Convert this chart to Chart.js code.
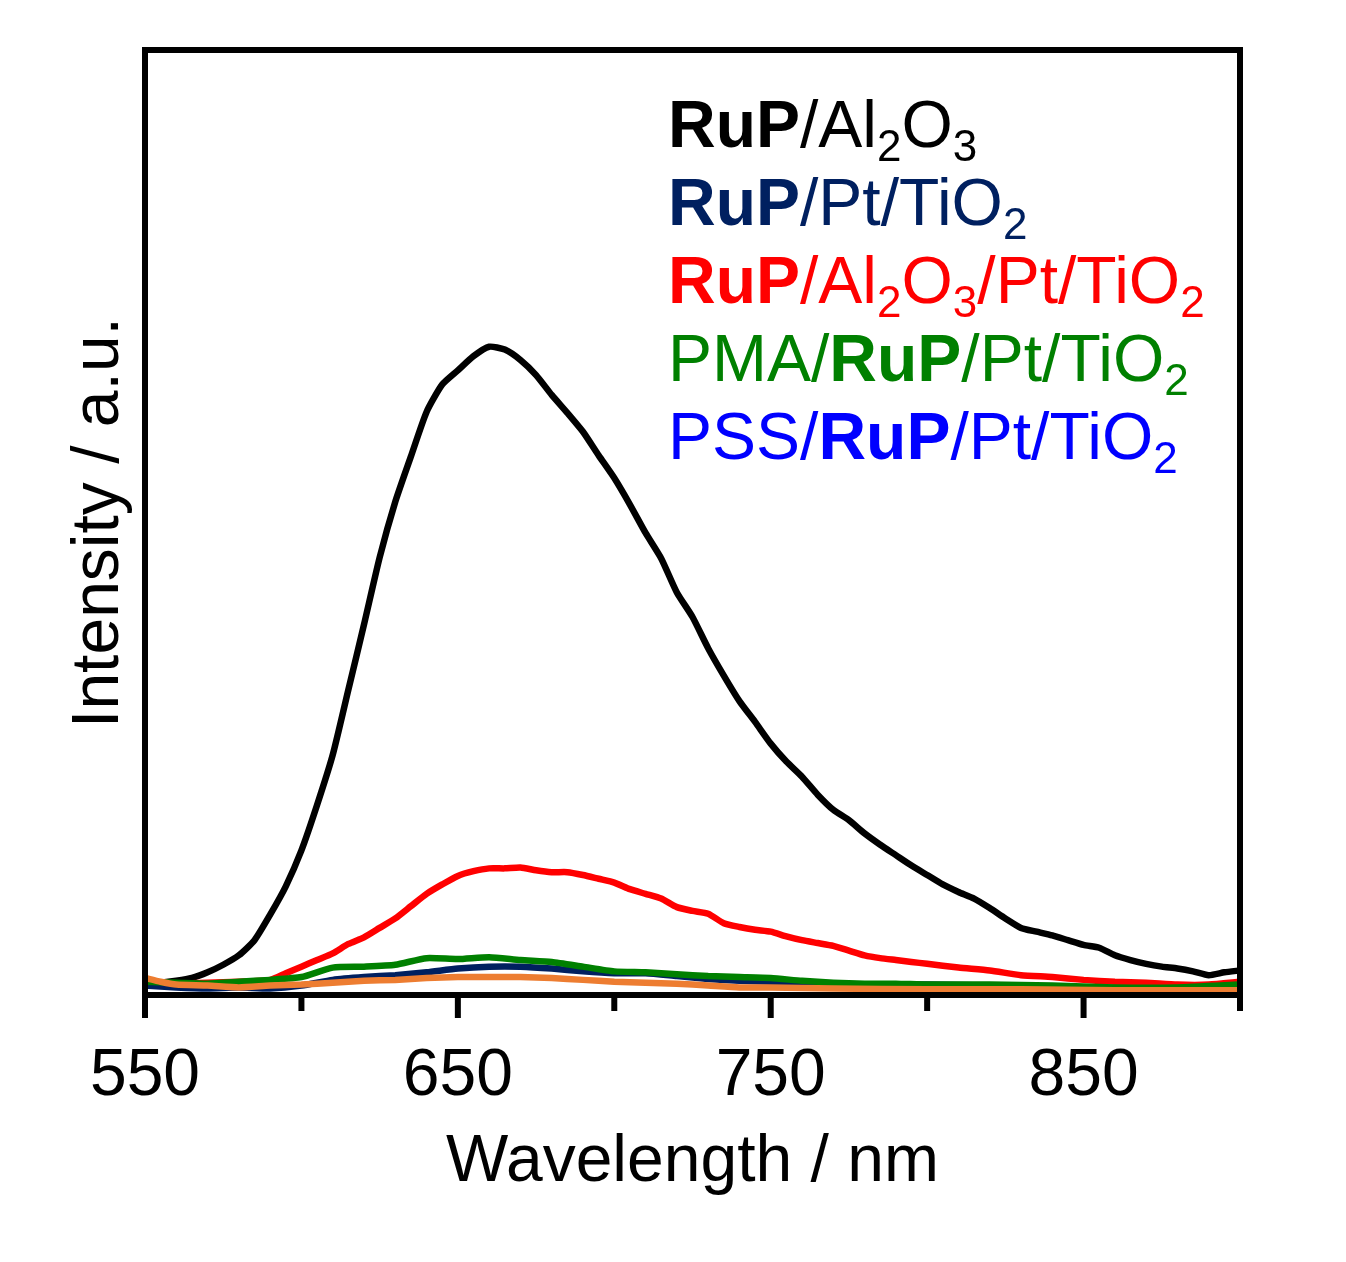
<!DOCTYPE html>
<html>
<head>
<meta charset="utf-8">
<script src="https://cdn.jsdelivr.net/npm/chart.js@4.4.1/dist/chart.umd.min.js"></script>
<style>
  html, body { margin: 0; padding: 0; background: #fff; }
  #wrap { width: 1346px; height: 1262px; }
</style>
</head>
<body>
<div id="wrap"><canvas id="pl" width="1346" height="1262"></canvas></div>
<script>
// ---- data (intensity in arbitrary units, 0..100 full frame) ----
const wlBlack = [550,555,560,565,570,575,580,585,590,595,600,605,610,615,620,625,630,635,640,645,
  650,655,660,665,670,675,680,685,690,695,700,705,710,715,720,725,730,735,740,745,
  750,755,760,765,770,775,780,785,790,795,800,805,810,815,820,825,830,835,840,845,
  850,855,860,865,870,875,880,885,890,895,900];
const iBlack = [1.2,1.3,1.5,1.8,2.4,3.2,4.2,5.8,8.5,11.5,15.3,20.1,25.4,32.3,39.2,46.3,52.2,57.0,61.7,64.6,
  66.1,67.6,68.6,68.3,67.2,65.6,63.5,61.6,59.6,57.1,54.7,51.9,48.9,46.2,42.6,40.0,36.7,33.8,31.1,28.9,
  26.6,24.7,23.1,21.2,19.6,18.5,17.1,15.9,14.8,13.7,12.7,11.7,10.9,10.2,9.2,8.1,7.1,6.7,6.3,5.8,
  5.3,5.0,4.2,3.7,3.3,3.0,2.8,2.5,2.1,2.4,2.6];

const wlRed = [550,560,570,580,590,595,600,605,610,615,620,625,630,635,640,645,650,655,660,665,
  670,675,680,685,690,695,700,705,710,715,720,725,730,735,740,745,750,755,760,765,
  770,775,780,785,790,795,800,810,820,830,840,850,860,870,880,890,900];
const iRed = [1.2,1.2,1.3,1.4,1.6,2.3,3.0,3.7,4.4,5.4,6.1,7.1,8.1,9.4,10.7,11.7,12.6,13.1,13.4,13.4,
  13.5,13.2,13.0,13.0,12.7,12.3,11.9,11.2,10.7,10.2,9.3,8.9,8.6,7.6,7.2,6.9,6.7,6.2,5.8,5.5,
  5.2,4.7,4.2,3.9,3.7,3.5,3.3,2.9,2.6,2.1,1.9,1.6,1.4,1.3,1.1,1.1,1.4];

const wlGreen = [550,560,570,580,590,600,610,620,630,640,650,660,670,680,690,700,710,720,730,740,
  750,760,770,780,790,800,820,840,860,880,900];
const iGreen = [1.4,1.3,1.2,1.4,1.6,1.9,2.9,3.0,3.2,3.9,3.8,4.0,3.7,3.5,3.0,2.5,2.4,2.2,2.0,1.9,
  1.8,1.5,1.3,1.2,1.2,1.1,1.1,1.0,0.8,0.8,1.1];

const wlNavy = [550,560,570,580,590,600,610,620,630,640,650,660,670,680,690,700,710,720,730,740,
  750,760,780,800,820,840,860,880,900];
const iNavy = [1.0,0.8,0.7,0.8,0.7,1.0,1.6,1.9,2.1,2.4,2.8,3.0,3.0,2.8,2.5,2.3,2.3,2.0,1.7,1.5,
  1.4,1.2,1.1,1.1,1.0,0.8,0.7,0.7,0.6];

const wlOrange = [550,555,560,570,580,590,600,610,620,630,640,650,660,670,680,690,700,710,720,730,
  740,750,770,800,830,860,900];
const iOrange = [1.8,1.4,1.1,1.0,0.8,1.0,1.1,1.3,1.5,1.6,1.8,1.9,1.9,1.9,1.8,1.6,1.4,1.3,1.2,1.0,
  0.8,0.8,0.7,0.6,0.6,0.5,0.5];

const xMajor = [550, 650, 750, 850];
const xMinor = [600, 700, 800, 900];

// legend rows: segments of text, b = bold, s = subscript
const legendColors = ['#000000', '#002060', '#ff0000', '#008000', '#0000ff'];
const legendRows = [
  [{t:'RuP',b:1},{t:'/Al'},{t:'2',s:1},{t:'O'},{t:'3',s:1}],
  [{t:'RuP',b:1},{t:'/Pt/TiO'},{t:'2',s:1}],
  [{t:'RuP',b:1},{t:'/Al'},{t:'2',s:1},{t:'O'},{t:'3',s:1},{t:'/Pt/TiO'},{t:'2',s:1}],
  [{t:'PMA/'},{t:'RuP',b:1},{t:'/Pt/TiO'},{t:'2',s:1}],
  [{t:'PSS/'},{t:'RuP',b:1},{t:'/Pt/TiO'},{t:'2',s:1}]
];

const FONT = '"Liberation Sans", Arial, Helvetica, sans-serif';

function pts(xs, ys) { return xs.map((x, i) => ({ x: x, y: ys[i] })); }

function series(label, xs, ys, color, order) {
  return {
    label: label,
    data: pts(xs, ys),
    borderColor: color,
    borderWidth: 6.5,
    pointRadius: 0,
    tension: 0.2,
    fill: false,
    order: order
  };
}

const framePlugin = {
  id: 'frame',
  afterDraw(chart) {
    const { ctx, chartArea: a, scales } = chart;
    ctx.save();
    ctx.strokeStyle = '#000';
    ctx.lineWidth = 6;
    ctx.strokeRect(a.left, a.top, a.right - a.left, a.bottom - a.top);
    // bottom ticks, pointing out
    const drawTick = (v, len) => {
      const px = scales.x.getPixelForValue(v);
      ctx.beginPath();
      ctx.moveTo(px, a.bottom);
      ctx.lineTo(px, a.bottom + len);
      ctx.stroke();
    };
    xMajor.forEach(v => drawTick(v, 23));
    xMinor.forEach(v => drawTick(v, 16));
    ctx.restore();
  }
};

const legendPlugin = {
  id: 'richLegend',
  afterDraw(chart) {
    const ctx = chart.ctx;
    ctx.save();
    ctx.textBaseline = 'alphabetic';
    ctx.textAlign = 'left';
    legendRows.forEach((row, i) => {
      let x = 668;
      const y = 147 + i * 78;
      ctx.fillStyle = legendColors[i];
      row.forEach(seg => {
        if (seg.s) {
          ctx.font = '44px ' + FONT;
          ctx.fillText(seg.t, x, y + 14);
        } else {
          ctx.font = (seg.b ? 'bold ' : '') + '66px ' + FONT;
          ctx.fillText(seg.t, x, y);
        }
        x += ctx.measureText(seg.t).width;
      });
    });
    ctx.restore();
  }
};

new Chart(document.getElementById('pl').getContext('2d'), {
  type: 'line',
  data: {
    datasets: [
      series('RuP/Al2O3', wlBlack, iBlack, '#000000', 5),
      series('RuP/Al2O3/Pt/TiO2', wlRed, iRed, '#ff0000', 4),
      series('RuP/Pt/TiO2', wlNavy, iNavy, '#002060', 3),
      series('PMA/RuP/Pt/TiO2', wlGreen, iGreen, '#008000', 2),
      series('PSS/RuP/Pt/TiO2', wlOrange, iOrange, '#ed7d31', 1)
    ]
  },
  options: {
    responsive: false,
    animation: false,
    layout: { padding: { top: 50, right: 106, left: 0, bottom: 0 } },
    plugins: { legend: { display: false }, tooltip: { enabled: false } },
    scales: {
      x: {
        type: 'linear',
        min: 550,
        max: 900,
        afterBuildTicks: s => { s.ticks = xMajor.map(v => ({ value: v })); },
        afterFit: s => { s.height = 267; },
        grid: { display: false, drawTicks: false },
        border: { display: false },
        ticks: { color: '#000', font: { family: FONT, size: 66 }, padding: 42, maxRotation: 0, autoSkip: false },
        title: { display: true, text: 'Wavelength / nm', color: '#000', font: { family: FONT, size: 66 }, padding: { top: 0, bottom: 60 } }
      },
      y: {
        min: 0,
        max: 100,
        afterFit: s => { s.width = 145; },
        grid: { display: false, drawTicks: false },
        border: { display: false },
        ticks: { display: false },
        title: { display: true, text: 'Intensity / a.u.', color: '#000', font: { family: FONT, size: 66 }, padding: { top: 60, bottom: 0 } }
      }
    }
  },
  plugins: [framePlugin, legendPlugin]
});
</script>
</body>
</html>
